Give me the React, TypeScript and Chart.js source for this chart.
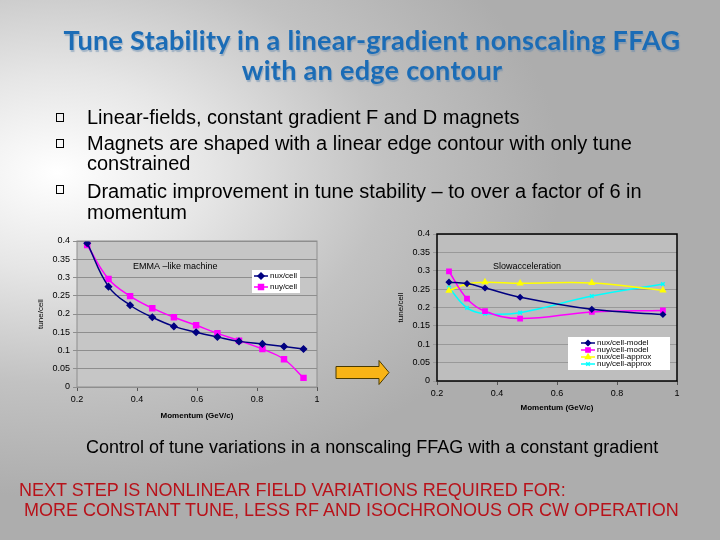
import React, { useEffect, useRef } from "react";
import { Chart, registerables } from "chart.js";
import { drawPoint } from "chart.js/helpers";

Chart.register(...registerables);

const FONT = '"Liberation Sans", Arial, sans-serif';

// ---------- data ----------
const xTicks = [0.2, 0.4, 0.6, 0.8, 1];
const yTicks = [0, 0.05, 0.1, 0.15, 0.2, 0.25, 0.3, 0.35, 0.4];

// Left chart: EMMA-like machine
const leftMomentum = [0.234, 0.305, 0.377, 0.451, 0.523, 0.597, 0.668, 0.74, 0.818, 0.89, 0.955];
const leftNux = [0.394, 0.275, 0.224, 0.191, 0.166, 0.15, 0.137, 0.125, 0.118, 0.111, 0.104];
const leftNuy = [0.389, 0.296, 0.249, 0.216, 0.191, 0.169, 0.147, 0.127, 0.104, 0.076, 0.025];

// Right chart: slow acceleration
const rightMomentum = [0.24, 0.3, 0.36, 0.477, 0.716, 0.953];
const nuxModel = [0.269, 0.265, 0.253, 0.228, 0.195, 0.181];
const nuyModel = [0.298, 0.224, 0.19, 0.17, 0.188, 0.192];
const nuxApprox = [0.246, 0.264, 0.269, 0.266, 0.267, 0.247];
const nuyApprox = [0.254, 0.199, 0.183, 0.186, 0.231, 0.264];

const toPts = (xs: number[], ys: number[]) => xs.map((x, i) => ({ x, y: ys[i] }));

// ---------- plugin: plot background, frame, inner title, legend ----------
const slideDeco = {
  id: "slideDeco",
  beforeDraw(chart: any, _a: any, o: any) {
    const { ctx, chartArea: a } = chart;
    ctx.save();
    ctx.fillStyle = o.plotBg;
    ctx.fillRect(a.left, a.top, a.right - a.left, a.bottom - a.top);
    ctx.restore();
  },
  afterDraw(chart: any, _a: any, o: any) {
    const { ctx, chartArea: a } = chart;
    ctx.save();
    ctx.strokeStyle = o.border;
    ctx.lineWidth = o.borderWidth;
    ctx.strokeRect(a.left, a.top, a.right - a.left, a.bottom - a.top);
    ctx.fillStyle = "#000";
    ctx.font = `${o.titleSize}px ${FONT}`;
    ctx.textBaseline = "middle";
    ctx.textAlign = "left";
    ctx.fillText(o.title, a.left + o.titleX, a.top + o.titleY);
    const L = o.legend;
    const lx = a.left + L.x;
    const ly = a.top + L.y;
    ctx.fillStyle = "#ffffff";
    ctx.fillRect(lx, ly, L.w, L.h);
    chart.data.datasets.forEach((ds: any, i: number) => {
      const y = ly + L.firstRow + i * L.rowH;
      const x0 = lx + L.lineX;
      ctx.strokeStyle = ds.borderColor;
      ctx.lineWidth = 1.5;
      ctx.beginPath();
      ctx.moveTo(x0, y);
      ctx.lineTo(x0 + L.lineLen, y);
      ctx.stroke();
      ctx.fillStyle = ds.pointBackgroundColor;
      ctx.strokeStyle = ds.pointBorderColor;
      drawPoint(ctx, { pointStyle: ds.pointStyle, radius: ds.pointRadius, rotation: 0, borderWidth: 1 } as any, x0 + L.lineLen / 2, y);
      ctx.fillStyle = "#000";
      ctx.font = `${L.fontSize}px ${FONT}`;
      ctx.textBaseline = "middle";
      ctx.fillText(ds.label, x0 + L.lineLen + 2, y);
    });
    ctx.restore();
  },
};

function makeOptions(cfg: any) {
  return {
    responsive: false,
    animation: false,
    layout: { padding: { left: 6, top: cfg.padTop, right: cfg.padRight, bottom: 0 } },
    plugins: {
      legend: { display: false },
      tooltip: { enabled: false },
      slideDeco: cfg.deco,
    },
    elements: { line: { tension: 0.4 } },
    scales: {
      x: {
        type: "linear",
        min: 0.2,
        max: 1,
        afterBuildTicks: (s: any) => { s.ticks = xTicks.map((v) => ({ value: v })); },
        afterFit: (s: any) => { s.height = cfg.xAxisH; },
        ticks: {
          color: "#000",
          font: { family: FONT, size: 9 },
          padding: 3,
          maxRotation: 0,
          callback: (v: any) => String(+(+v).toFixed(2)),
        },
        grid: { drawOnChartArea: false, drawTicks: true, tickLength: 4, color: "#555" },
        border: { display: false },
        title: {
          display: true,
          text: "Momentum (GeV/c)",
          color: "#000",
          font: { family: FONT, size: 8, weight: "bold" },
          padding: { top: 2, bottom: 4 },
        },
      },
      y: {
        type: "linear",
        min: 0,
        max: 0.4,
        afterBuildTicks: (s: any) => { s.ticks = yTicks.map((v) => ({ value: v })); },
        afterFit: (s: any) => { s.width = 41; },
        ticks: {
          color: "#000",
          font: { family: FONT, size: 9 },
          padding: 3,
          callback: (v: any) => String(+(+v).toFixed(2)),
        },
        grid: { color: cfg.gridColor, lineWidth: 1, tickLength: 4, drawTicks: true },
        border: { display: false },
        title: {
          display: true,
          text: "tune/cell",
          color: "#000",
          font: { family: FONT, size: 8 },
          padding: { top: 0, bottom: 4 },
        },
      },
    },
  };
}

function ChartCanvas(props: { datasets: any[]; cfg: any; style: React.CSSProperties; w: number; h: number }) {
  const ref = useRef<HTMLCanvasElement>(null);
  useEffect(() => {
    const chart = new Chart(ref.current as HTMLCanvasElement, {
      type: "line",
      data: { datasets: props.datasets },
      options: makeOptions(props.cfg) as any,
      plugins: [slideDeco as any],
    });
    return () => chart.destroy();
  }, []);
  return <canvas ref={ref} width={props.w} height={props.h} style={{ position: "absolute", ...props.style }} />;
}

const ds = (label: string, data: any, color: string, style: string, r: number) => ({
  label,
  data,
  borderColor: color,
  backgroundColor: color,
  pointBackgroundColor: color,
  pointBorderColor: color,
  pointStyle: style,
  pointRadius: r,
  borderWidth: 1.5,
  fill: false,
});

const leftSets = [
  ds("nux/cell", toPts(leftMomentum, leftNux), "#000080", "rectRot", 3),
  ds("nuy/cell", toPts(leftMomentum, leftNuy), "#ff00ff", "rect", 3.5),
];
const rightSets = [
  ds("nux/cell-model", toPts(rightMomentum, nuxModel), "#000080", "rectRot", 2.5),
  ds("nuy/cell-model", toPts(rightMomentum, nuyModel), "#ff00ff", "rect", 3),
  ds("nux/cell-approx", toPts(rightMomentum, nuxApprox), "#ffff00", "triangle", 2.8),
  ds("nuy/cell-approx", toPts(rightMomentum, nuyApprox), "#00ffff", "crossRot", 2.5),
];

const leftCfg = {
  padTop: 11,
  padRight: 8,
  xAxisH: 38,
  gridColor: "#8e8e8e",
  deco: {
    plotBg: "#c6c6c6",
    border: "#8e8e8e",
    borderWidth: 1,
    title: "EMMA –like machine",
    titleSize: 9,
    titleX: 56,
    titleY: 26,
    legend: { x: 175, y: 29, w: 48, h: 23, firstRow: 6, rowH: 11, lineX: 2, lineLen: 14, fontSize: 8 },
  },
};
const rightCfg = {
  padTop: 12,
  padRight: 13,
  xAxisH: 36,
  gridColor: "#999999",
  deco: {
    plotBg: "#bebebe",
    border: "#000000",
    borderWidth: 1.5,
    title: "Slowacceleration",
    titleSize: 9,
    titleX: 56,
    titleY: 33,
    legend: { x: 131, y: 103, w: 102, h: 33, firstRow: 6, rowH: 7, lineX: 13, lineLen: 14, fontSize: 8 },
  },
};

const line = (top: number, left: number, text: string, extra: React.CSSProperties = {}) => (
  <div style={{ position: "absolute", top, left, whiteSpace: "pre", ...extra }}>{text}</div>
);

const Bullet = ({ cy }: { cy: number }) => (
  <div style={{ position: "absolute", left: 56, top: cy - 4, width: 6, height: 7, border: "1px solid #000" }} />
);

export default function App() {
  const bodyText: React.CSSProperties = { fontFamily: FONT, fontSize: 20, lineHeight: "20px", color: "#000" };
  const capText: React.CSSProperties = { fontFamily: FONT, fontSize: 18, lineHeight: "20px", color: "#000" };
  const redText: React.CSSProperties = { fontFamily: FONT, fontSize: 18, lineHeight: "20px", color: "#b8121a" };
  return (
    <div
      style={{
        position: "fixed",
        left: 0,
        top: 0,
        width: 720,
        height: 540,
        overflow: "hidden",
        background: "radial-gradient(ellipse 70% 60% at 8% 32%, #ffffff 0%, #e6e6e6 30%, #c2c2c2 65%, #adadad 100%)",
      }}
    >
      <div
        style={{
          position: "absolute",
          top: 25,
          left: 12,
          width: 720,
          textAlign: "center",
          fontFamily: "Lato, 'Open Sans', sans-serif",
          fontWeight: 700,
          fontSize: 27,
          letterSpacing: 0.3,
          lineHeight: "30px",
          color: "#1b6cb6",
          textShadow: "1px 2px 1px rgba(90,130,170,0.45)",
        }}
      >
        <div>Tune Stability in a linear-gradient nonscaling FFAG</div>
        <div>with an edge contour</div>
      </div>

      <Bullet cy={117} />
      <Bullet cy={143} />
      <Bullet cy={189} />
      {line(107, 87, "Linear-fields, constant gradient F and D magnets", bodyText)}
      {line(133, 87, "Magnets are shaped with a linear edge contour with only tune", bodyText)}
      {line(153, 87, "constrained", bodyText)}
      {line(181, 87, "Dramatic improvement in tune stability – to over a factor of 6 in", bodyText)}
      {line(202, 87, "momentum", bodyText)}

      <ChartCanvas datasets={leftSets} cfg={leftCfg} w={295} h={195} style={{ left: 30, top: 230 }} />
      <ChartCanvas datasets={rightSets} cfg={rightCfg} w={300} h={195} style={{ left: 390, top: 222 }} />

      <svg style={{ position: "absolute", left: 334, top: 358 }} width={60} height={30}>
        <polygon points="2,8.5 45,8.5 45,2.5 55,14.5 45,26.5 45,20.5 2,20.5" fill="#f8b416" stroke="#4a3a00" strokeWidth={1} />
      </svg>

      {line(437, 86, "Control of tune variations in a nonscaling FFAG with a constant gradient", capText)}
      {line(480, 19, "NEXT STEP IS NONLINEAR FIELD VARIATIONS REQUIRED FOR:", redText)}
      {line(500, 19, " MORE CONSTANT TUNE, LESS RF AND ISOCHRONOUS OR CW OPERATION", redText)}
    </div>
  );
}
